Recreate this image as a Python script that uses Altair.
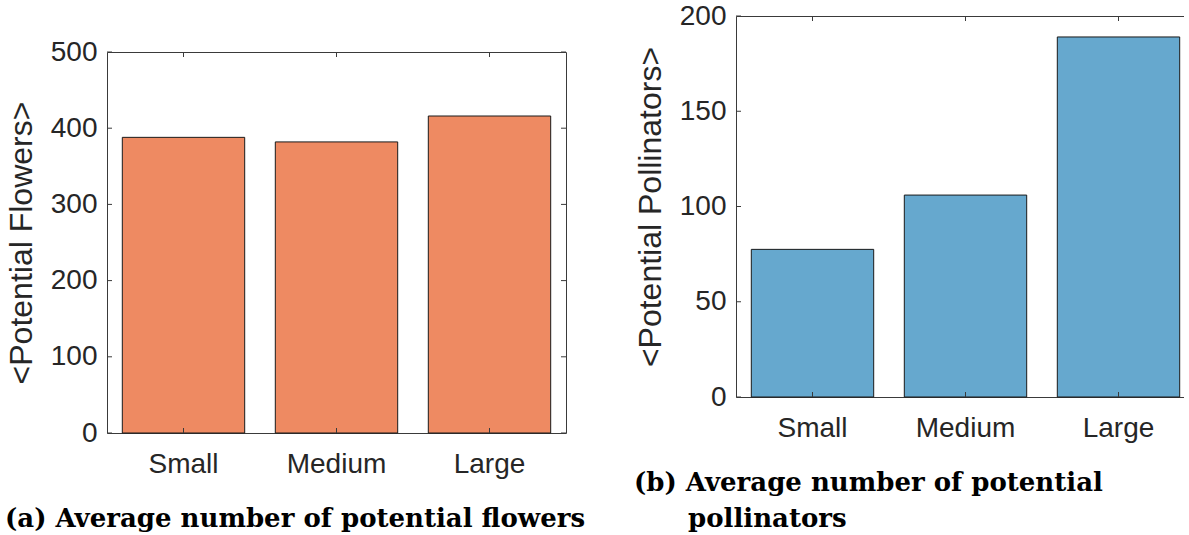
import altair as alt
import pandas as pd

categories = ["Small", "Medium", "Large"]
flowers = [388, 382, 416]
pollinators = [77.5, 106, 189]
ticks_a = [0, 100, 200, 300, 400, 500]
ticks_b = [0, 50, 100, 150, 200]
caption_a = ["(a) Average number of potential flowers"]
caption_b = ["(b) Average number of potential", "pollinators"]

AX = "#3a3a3a"
TXT = "#262626"
CAP_FONT = "DejaVu Serif"
CAP_SIZE = 26


def panel(values, ticks, ymax, color, ytitle, W, H, captions):
    df = pd.DataFrame({"cat": categories, "v": values})
    xs = alt.Scale(domain=categories, paddingInner=0.2, paddingOuter=0.1)
    ys = alt.Scale(domain=[0, ymax], nice=False, zero=True)
    xaxis = alt.Axis(title=None, labelAngle=0, labelFontSize=28, labelPadding=17,
                     ticks=False, tickSize=0, domain=False, grid=False)
    yaxis = alt.Axis(values=ticks, title=ytitle, ticks=False, tickSize=0, domain=False,
                     grid=False, labelFontSize=28, labelPadding=10, titleFontSize=32,
                     titlePadding=12, titleFontWeight="normal")
    X = alt.X("cat:N", sort=categories, scale=xs, axis=xaxis)
    Y = alt.Y("v:Q", scale=ys, axis=yaxis)
    bars = alt.Chart(df).mark_bar(color=color, stroke="#1a1a1a", strokeWidth=1).encode(x=X, y=Y)
    tdf = pd.DataFrame({"v": ticks})
    cdf = pd.DataFrame({"cat": categories})
    y_left = alt.Chart(tdf).mark_rule(color=AX, strokeWidth=1).encode(
        y=Y, x=alt.value(0), x2=alt.value(5))
    y_right = alt.Chart(tdf).mark_rule(color=AX, strokeWidth=1).encode(
        y=Y, x=alt.value(W - 5), x2=alt.value(W))
    x_bot = alt.Chart(cdf).mark_rule(color=AX, strokeWidth=1).encode(
        x=X, y=alt.value(H - 5), y2=alt.value(H))
    x_top = alt.Chart(cdf).mark_rule(color=AX, strokeWidth=1).encode(
        x=X, y=alt.value(0), y2=alt.value(5))
    layers = [bars, y_left, y_right, x_bot, x_top]
    for text, dx, dy in captions:
        layers.append(
            alt.Chart(pd.DataFrame({"t": [text]})).mark_text(
                align="left", baseline="alphabetic", font=CAP_FONT, fontWeight="bold",
                fontSize=CAP_SIZE, color="black").encode(
                text="t:N", x=alt.value(dx), y=alt.value(dy))
        )
    return alt.layer(*layers).properties(width=W, height=H)


left = panel(flowers, ticks_a, 500, "#EE8A62", "<Potential Flowers>", 459, 381,
             [(caption_a[0], -102, 381 + 94)])
right = panel(pollinators, ticks_b, 200, "#66A8CE", "<Potential Pollinators>", 459, 381,
              [(caption_b[0], -102, 381 + 94), (caption_b[1], -48, 381 + 130)])

spacer = alt.Chart(pd.DataFrame({"s": [0]})).mark_point(opacity=0).encode(
    x=alt.value(0), y=alt.value(0)
).properties(width=459, height=21, view=alt.ViewBackground(strokeOpacity=0))

left_col = alt.vconcat(spacer, left, spacing=0)

chart = alt.hconcat(left_col, right, spacing=47).properties(
    padding={"left": 4, "top": 1, "right": -12, "bottom": 0}
).configure_view(stroke=AX, strokeWidth=1).configure_axis(
    labelFont="Liberation Sans", titleFont="Liberation Sans", labelColor=TXT, titleColor=TXT
)

chart.save("out.html", embed_options={"renderer": "svg", "actions": False})
